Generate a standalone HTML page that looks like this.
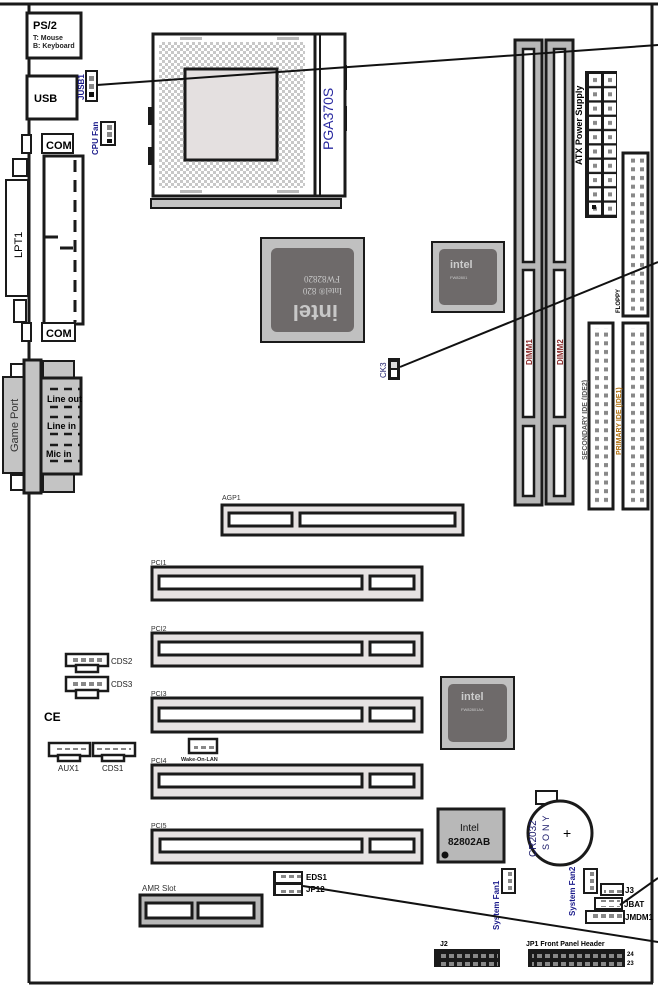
<!DOCTYPE html>
<html><head><meta charset="utf-8"><style>
html,body{margin:0;padding:0;background:#fff;}
svg{display:block;font-family:"Liberation Sans",sans-serif;}
</style></head><body>
<svg width="658" height="989" viewBox="0 0 658 989" xmlns="http://www.w3.org/2000/svg">
<defs>
<pattern id="idep" x="0" y="0" width="9" height="8.7" patternUnits="userSpaceOnUse"><rect x="1" y="2" width="4" height="4" fill="#888"/></pattern>
<pattern id="atxp" x="588" y="73" width="15" height="14.3" patternUnits="userSpaceOnUse"><rect x="1" y="1" width="12" height="12" fill="#fff"/><rect x="5" y="5" width="4" height="4" fill="#888"/></pattern>
<pattern id="hp" x="0" y="0" width="8" height="8" patternUnits="userSpaceOnUse"><rect x="1" y="2" width="5" height="4" fill="#888"/></pattern>
<pattern id="dots" x="0" y="0" width="6" height="6" patternUnits="userSpaceOnUse"><rect x="0" y="0" width="3" height="3" fill="#c8c8c8"/><rect x="3" y="3" width="3" height="3" fill="#c8c8c8"/></pattern>
</defs>
<g stroke="#1a1a1a" fill="none">
<line x1="0" y1="4" x2="658" y2="4" stroke-width="3"/>
<line x1="29" y1="4" x2="29" y2="983" stroke-width="3"/>
<line x1="29" y1="983" x2="653" y2="983" stroke-width="3"/>
<line x1="652" y1="4" x2="652" y2="983" stroke-width="3"/>
</g>
<rect x="27" y="13" width="54" height="45" fill="#fff" stroke="#1a1a1a" stroke-width="3"/>
<text x="33" y="29" font-size="11" font-weight="bold">PS/2</text>
<text x="33" y="40" font-size="7" font-weight="bold" fill="#222">T: Mouse</text>
<text x="33" y="48" font-size="7" font-weight="bold" fill="#222">B: Keyboard</text>
<rect x="27" y="76" width="50" height="43" fill="#fff" stroke="#1a1a1a" stroke-width="3"/>
<text x="34" y="102" font-size="11" font-weight="bold">USB</text>
<rect x="86" y="71" width="11" height="30" fill="#fff" stroke="#1a1a1a" stroke-width="2"/>
<rect x="89" y="76" width="5" height="5" fill="#888"/><rect x="89" y="84" width="5" height="5" fill="#888"/><rect x="89" y="92" width="5" height="5" fill="#111"/>
<text transform="translate(84,100) rotate(-90)" font-size="8" font-weight="bold" fill="#1a1a8a">JUSB1</text>
<rect x="101" y="122" width="14" height="23" fill="#fff" stroke="#1a1a1a" stroke-width="2"/>
<rect x="107" y="125" width="5" height="5" fill="#888"/><rect x="107" y="132" width="5" height="5" fill="#888"/><rect x="107" y="139" width="5" height="4" fill="#111"/>
<text transform="translate(98,155) rotate(-90)" font-size="8" font-weight="bold" fill="#1a1a8a">CPU Fan</text>
<rect x="22" y="135" width="9" height="18" fill="#fff" stroke="#1a1a1a" stroke-width="2"/>
<rect x="42" y="134" width="31" height="19" fill="#fff" stroke="#1a1a1a" stroke-width="2"/>
<text x="46" y="149" font-size="11" font-weight="bold">COM</text>
<rect x="13" y="159" width="14" height="17" fill="#fff" stroke="#1a1a1a" stroke-width="2"/>
<rect x="6" y="180" width="22" height="116" fill="#fff" stroke="#1a1a1a" stroke-width="2"/>
<text transform="translate(22,258) rotate(-90)" font-size="11">LPT1</text>
<rect x="14" y="300" width="12" height="22" fill="#fff" stroke="#1a1a1a" stroke-width="2"/>
<rect x="44" y="156" width="39" height="168" fill="#fff" stroke="#1a1a1a" stroke-width="3"/>
<line x1="75" y1="160" x2="75" y2="322" stroke="#1a1a1a" stroke-width="3" stroke-dasharray="12,8"/>
<line x1="45" y1="237" x2="58" y2="237" stroke="#1a1a1a" stroke-width="3"/>
<line x1="60" y1="248" x2="73" y2="248" stroke="#1a1a1a" stroke-width="3"/>
<rect x="22" y="323" width="9" height="18" fill="#fff" stroke="#1a1a1a" stroke-width="2"/>
<rect x="42" y="323" width="33" height="18" fill="#fff" stroke="#1a1a1a" stroke-width="2"/>
<text x="46" y="337" font-size="11" font-weight="bold">COM</text>
<rect x="11" y="364" width="14" height="13" fill="#fff" stroke="#1a1a1a" stroke-width="2"/>
<rect x="11" y="475" width="14" height="15" fill="#fff" stroke="#1a1a1a" stroke-width="2"/>
<rect x="43" y="361" width="31" height="18" fill="#c4c4c4" stroke="#1a1a1a" stroke-width="2"/>
<rect x="43" y="473" width="31" height="19" fill="#c4c4c4" stroke="#1a1a1a" stroke-width="2"/>
<rect x="3" y="377" width="21" height="96" fill="#c4c4c4" stroke="#1a1a1a" stroke-width="2"/>
<text transform="translate(18,452) rotate(-90)" font-size="11" fill="#333">Game Port</text>
<rect x="24" y="360" width="17" height="133" fill="#c4c4c4" stroke="#1a1a1a" stroke-width="3"/>
<rect x="41" y="378" width="40" height="96" fill="#c4c4c4" stroke="#1a1a1a" stroke-width="3"/>
<g stroke="#1a1a1a" stroke-width="2.5" stroke-dasharray="8,6">
<line x1="50" y1="389" x2="80" y2="389"/><line x1="50" y1="407" x2="80" y2="407"/>
<line x1="50" y1="417" x2="80" y2="417"/><line x1="50" y1="434" x2="80" y2="434"/>
<line x1="50" y1="445" x2="80" y2="445"/><line x1="50" y1="461" x2="80" y2="461"/>
</g>
<text x="47" y="402" font-size="9" font-weight="bold">Line out</text>
<text x="47" y="429" font-size="9" font-weight="bold">Line in</text>
<text x="46" y="457" font-size="9" font-weight="bold">Mic in</text>
<rect x="148" y="107" width="6" height="18" fill="#1a1a1a"/>
<rect x="148" y="147" width="6" height="18" fill="#1a1a1a"/>
<rect x="340" y="65" width="7" height="25" fill="#1a1a1a"/>
<rect x="340" y="106" width="7" height="25" fill="#1a1a1a"/>
<rect x="153" y="34" width="192" height="162" fill="#fff" stroke="#1a1a1a" stroke-width="3"/>
<rect x="159" y="42" width="146" height="146" fill="url(#dots)"/>
<rect x="185" y="69" width="92" height="91" fill="#e4e0e0" stroke="#1a1a1a" stroke-width="3"/>
<rect x="180" y="37" width="22" height="3" fill="#bbb"/><rect x="277" y="37" width="22" height="3" fill="#bbb"/>
<rect x="180" y="190" width="22" height="3" fill="#bbb"/><rect x="277" y="190" width="22" height="3" fill="#bbb"/>
<line x1="315" y1="34" x2="315" y2="196" stroke="#1a1a1a" stroke-width="3"/>
<line x1="320" y1="34" x2="320" y2="196" stroke="#1a1a1a" stroke-width="2"/>
<text transform="translate(333,150) rotate(-90)" font-size="14" fill="#2a2aa0">PGA370S</text>
<rect x="151" y="199" width="190" height="9" fill="#c4c4c4" stroke="#1a1a1a" stroke-width="2"/>
<rect x="261" y="238" width="103" height="104" fill="#c0c0c0" stroke="#1a1a1a" stroke-width="2"/>
<rect x="271" y="248" width="83" height="84" rx="6" fill="#6e6a6a"/>
<g transform="rotate(180 312 290)" fill="#c8c8c8" font-family="Liberation Serif,serif">
<text x="286" y="275" font-size="22" font-weight="bold" font-family="Liberation Sans,sans-serif">intel</text>
<text x="282" y="292" font-size="9">Intel® 820</text>
<text x="284" y="304" font-size="9">FW82820</text>
</g>
<rect x="432" y="242" width="72" height="70" fill="#c0c0c0" stroke="#1a1a1a" stroke-width="2"/>
<rect x="439" y="249" width="58" height="56" rx="5" fill="#6e6a6a"/>
<text x="450" y="268" font-size="11" font-weight="bold" fill="#ccc">intel</text>
<text x="450" y="279" font-size="4" fill="#ccc">FW82801</text>
<rect x="515" y="40" width="27" height="465" fill="#b8b8b8" stroke="#1a1a1a" stroke-width="3"/>
<rect x="546" y="40" width="27" height="464" fill="#b8b8b8" stroke="#1a1a1a" stroke-width="3"/>
<g fill="#fff" stroke="#1a1a1a" stroke-width="2.5">
<rect x="523" y="49" width="11" height="213"/><rect x="523" y="270" width="11" height="147"/><rect x="523" y="426" width="11" height="70"/>
<rect x="554" y="49" width="11" height="213"/><rect x="554" y="270" width="11" height="147"/><rect x="554" y="426" width="11" height="70"/>
</g>
<text transform="translate(532,365) rotate(-90)" font-size="8" font-weight="bold" fill="#8a2a2a">DIMM1</text>
<text transform="translate(563,365) rotate(-90)" font-size="8" font-weight="bold" fill="#8a2a2a">DIMM2</text>
<rect x="585" y="71" width="32" height="147" fill="#1a1a1a"/>
<rect x="588" y="73" width="30" height="143" fill="url(#atxp)"/>
<rect x="592" y="205" width="4" height="4" fill="#111"/>
<text transform="translate(582,165) rotate(-90)" font-size="9" font-weight="bold">ATX Power Supply</text>
<rect x="623" y="153" width="25" height="163" fill="#fff" stroke="#1a1a1a" stroke-width="3"/>
<rect x="628" y="157" width="18" height="156" fill="url(#idep)"/>
<text transform="translate(620,313) rotate(-90)" font-size="6" font-weight="bold">FLOPPY</text>
<rect x="589" y="323" width="24" height="186" fill="#fff" stroke="#1a1a1a" stroke-width="3"/>
<rect x="594" y="328" width="17" height="176" fill="url(#idep)"/>
<rect x="623" y="323" width="25" height="186" fill="#fff" stroke="#1a1a1a" stroke-width="3"/>
<rect x="628" y="328" width="18" height="176" fill="url(#idep)"/>
<text transform="translate(587,460) rotate(-90)" font-size="7" font-weight="bold" fill="#555">SECONDARY IDE (IDE2)</text>
<text transform="translate(621,455) rotate(-90)" font-size="7" font-weight="bold" fill="#b07010">PRIMARY IDE (IDE1)</text>
<rect x="388" y="358" width="12" height="22" fill="#1a1a1a"/>
<rect x="391" y="362" width="6" height="6" fill="#ddd"/><rect x="391" y="370" width="6" height="7" fill="#fff"/>
<text transform="translate(386,378) rotate(-90)" font-size="8" fill="#1a1a6a">CK3</text>
<text x="222" y="500" font-size="7" fill="#333">AGP1</text>
<rect x="222" y="505" width="241" height="30" fill="#e6e2e2" stroke="#1a1a1a" stroke-width="3"/>
<rect x="229" y="513" width="63" height="13" fill="#fff" stroke="#1a1a1a" stroke-width="3"/>
<rect x="300" y="513" width="155" height="13" fill="#fff" stroke="#1a1a1a" stroke-width="3"/>
<g font-size="7" fill="#333">
<text x="151" y="565">PCI1</text><text x="151" y="631">PCI2</text><text x="151" y="696">PCI3</text><text x="151" y="763">PCI4</text><text x="151" y="828">PCI5</text>
</g>
<g fill="#e6e2e2" stroke="#1a1a1a" stroke-width="3">
<rect x="152" y="567" width="270" height="33"/><rect x="152" y="633" width="270" height="33"/><rect x="152" y="698" width="270" height="34"/><rect x="152" y="765" width="270" height="33"/><rect x="152" y="830" width="270" height="33"/>
</g>
<g fill="#fff" stroke="#1a1a1a" stroke-width="3">
<rect x="159" y="576" width="203" height="13"/><rect x="370" y="576" width="44" height="13"/>
<rect x="159" y="642" width="203" height="13"/><rect x="370" y="642" width="44" height="13"/>
<rect x="159" y="708" width="203" height="13"/><rect x="370" y="708" width="44" height="13"/>
<rect x="159" y="774" width="203" height="13"/><rect x="370" y="774" width="44" height="13"/>
<rect x="160" y="839" width="202" height="13"/><rect x="370" y="839" width="44" height="13"/>
</g>
<rect x="441" y="677" width="73" height="72" fill="#c0c0c0" stroke="#1a1a1a" stroke-width="2"/>
<rect x="448" y="684" width="59" height="58" rx="5" fill="#6e6a6a"/>
<text x="461" y="700" font-size="11" font-weight="bold" fill="#ccc">intel</text>
<text x="461" y="711" font-size="4" fill="#ccc">FW82801AA</text>
<rect x="438" y="809" width="66" height="53" fill="#b8b8b8" stroke="#1a1a1a" stroke-width="3"/>
<circle cx="445" cy="855" r="3.5" fill="#111"/>
<text x="460" y="831" font-size="10" fill="#111">Intel</text>
<text x="448" y="845" font-size="10" font-weight="bold" fill="#111">82802AB</text>
<rect x="536" y="791" width="21" height="13" fill="#fff" stroke="#1a1a1a" stroke-width="2"/>
<circle cx="560" cy="833" r="32" fill="#fff" stroke="#1a1a1a" stroke-width="3"/>
<text transform="translate(536,857) rotate(-90)" font-size="10" fill="#1a1a6a">CR2032</text>
<text transform="translate(549,850) rotate(-90)" font-size="9" fill="#1a1a6a" letter-spacing="3">SONY</text>
<text x="563" y="838" font-size="14">+</text>
<rect x="502" y="869" width="13" height="24" fill="#fff" stroke="#1a1a1a" stroke-width="2"/>
<rect x="508" y="872" width="4" height="4" fill="#888"/><rect x="508" y="879" width="4" height="4" fill="#888"/><rect x="508" y="886" width="4" height="4" fill="#888"/>
<text transform="translate(499,930) rotate(-90)" font-size="8" font-weight="bold" fill="#1a1a8a">System Fan1</text>
<rect x="584" y="869" width="13" height="24" fill="#fff" stroke="#1a1a1a" stroke-width="2"/>
<rect x="590" y="872" width="4" height="4" fill="#888"/><rect x="590" y="879" width="4" height="4" fill="#888"/><rect x="590" y="886" width="4" height="4" fill="#888"/>
<text transform="translate(575,916) rotate(-90)" font-size="8" font-weight="bold" fill="#1a1a8a">System Fan2</text>
<rect x="601" y="884" width="22" height="11" fill="#fff" stroke="#1a1a1a" stroke-width="2"/>
<rect x="604" y="886" width="18" height="7" fill="url(#hp)"/>
<text x="625" y="893" font-size="8" font-weight="bold">J3</text>
<rect x="595" y="898" width="27" height="11" fill="#fff" stroke="#1a1a1a" stroke-width="2"/>
<rect x="598" y="900" width="22" height="7" fill="url(#hp)"/>
<text x="624" y="907" font-size="8" font-weight="bold">JBAT</text>
<rect x="586" y="911" width="38" height="12" fill="#fff" stroke="#1a1a1a" stroke-width="2"/>
<rect x="590" y="913" width="32" height="7" fill="url(#hp)"/>
<text x="625" y="920" font-size="8" font-weight="bold">JMDM1</text>
<text x="440" y="946" font-size="7" font-weight="bold">J2</text>
<rect x="434" y="949" width="66" height="18" fill="#1a1a1a"/>
<rect x="438" y="950" width="60" height="16" fill="url(#hp)"/>
<text x="526" y="946" font-size="7" font-weight="bold">JP1  Front Panel Header</text>
<rect x="528" y="949" width="97" height="18" fill="#1a1a1a"/>
<rect x="532" y="950" width="92" height="16" fill="url(#hp)"/>
<text x="627" y="956" font-size="6" font-weight="bold">24</text>
<text x="627" y="965" font-size="6" font-weight="bold">23</text>
<text x="142" y="891" font-size="8" fill="#333">AMR Slot</text>
<rect x="140" y="895" width="122" height="31" fill="#b8b8b8" stroke="#1a1a1a" stroke-width="3"/>
<rect x="146" y="903" width="46" height="15" fill="#fff" stroke="#1a1a1a" stroke-width="3"/>
<rect x="198" y="903" width="56" height="15" fill="#fff" stroke="#1a1a1a" stroke-width="3"/>
<rect x="273" y="871" width="30" height="25" fill="#1a1a1a"/>
<rect x="276" y="873" width="25" height="9" fill="#fff"/><rect x="276" y="885" width="25" height="9" fill="#fff"/>
<rect x="279" y="875" width="22" height="6" fill="url(#hp)"/><rect x="279" y="887" width="22" height="6" fill="url(#hp)"/>
<text x="306" y="880" font-size="8" font-weight="bold">EDS1</text>
<text x="306" y="892" font-size="8" font-weight="bold">JP12</text>
<g fill="#fff" stroke="#1a1a1a" stroke-width="2.5">
<rect x="66" y="654" width="42" height="12"/><rect x="76" y="665" width="22" height="7"/>
<rect x="66" y="677" width="42" height="14"/><rect x="76" y="690" width="22" height="8"/>
<rect x="49" y="743" width="41" height="13"/><rect x="58" y="755" width="22" height="6"/>
<rect x="93" y="743" width="42" height="13"/><rect x="102" y="755" width="22" height="6"/>
<rect x="189" y="739" width="28" height="14"/>
</g>
<g>
<rect x="71" y="658" width="34" height="5" fill="url(#hp)"/><rect x="71" y="682" width="34" height="5" fill="url(#hp)"/>
<rect x="54" y="748" width="34" height="5" fill="url(#hp)"/><rect x="97" y="748" width="34" height="5" fill="url(#hp)"/>
<rect x="194" y="744" width="20" height="5" fill="url(#hp)"/>
</g>
<g font-size="8" fill="#222">
<text x="111" y="664">CDS2</text><text x="111" y="687">CDS3</text>
<text x="58" y="771">AUX1</text><text x="102" y="771">CDS1</text>
<text x="181" y="761" font-size="5.5" font-weight="bold">Wake-On-LAN</text>
</g>
<text x="44" y="721" font-size="12" font-weight="bold">CE</text>
<g stroke="#111" stroke-width="2">
<line x1="97" y1="85" x2="658" y2="45"/>
<line x1="400" y1="367" x2="658" y2="262"/>
<line x1="620" y1="905" x2="658" y2="878"/>
<line x1="303" y1="886" x2="658" y2="942"/>
</g>
</svg>
</body></html>
